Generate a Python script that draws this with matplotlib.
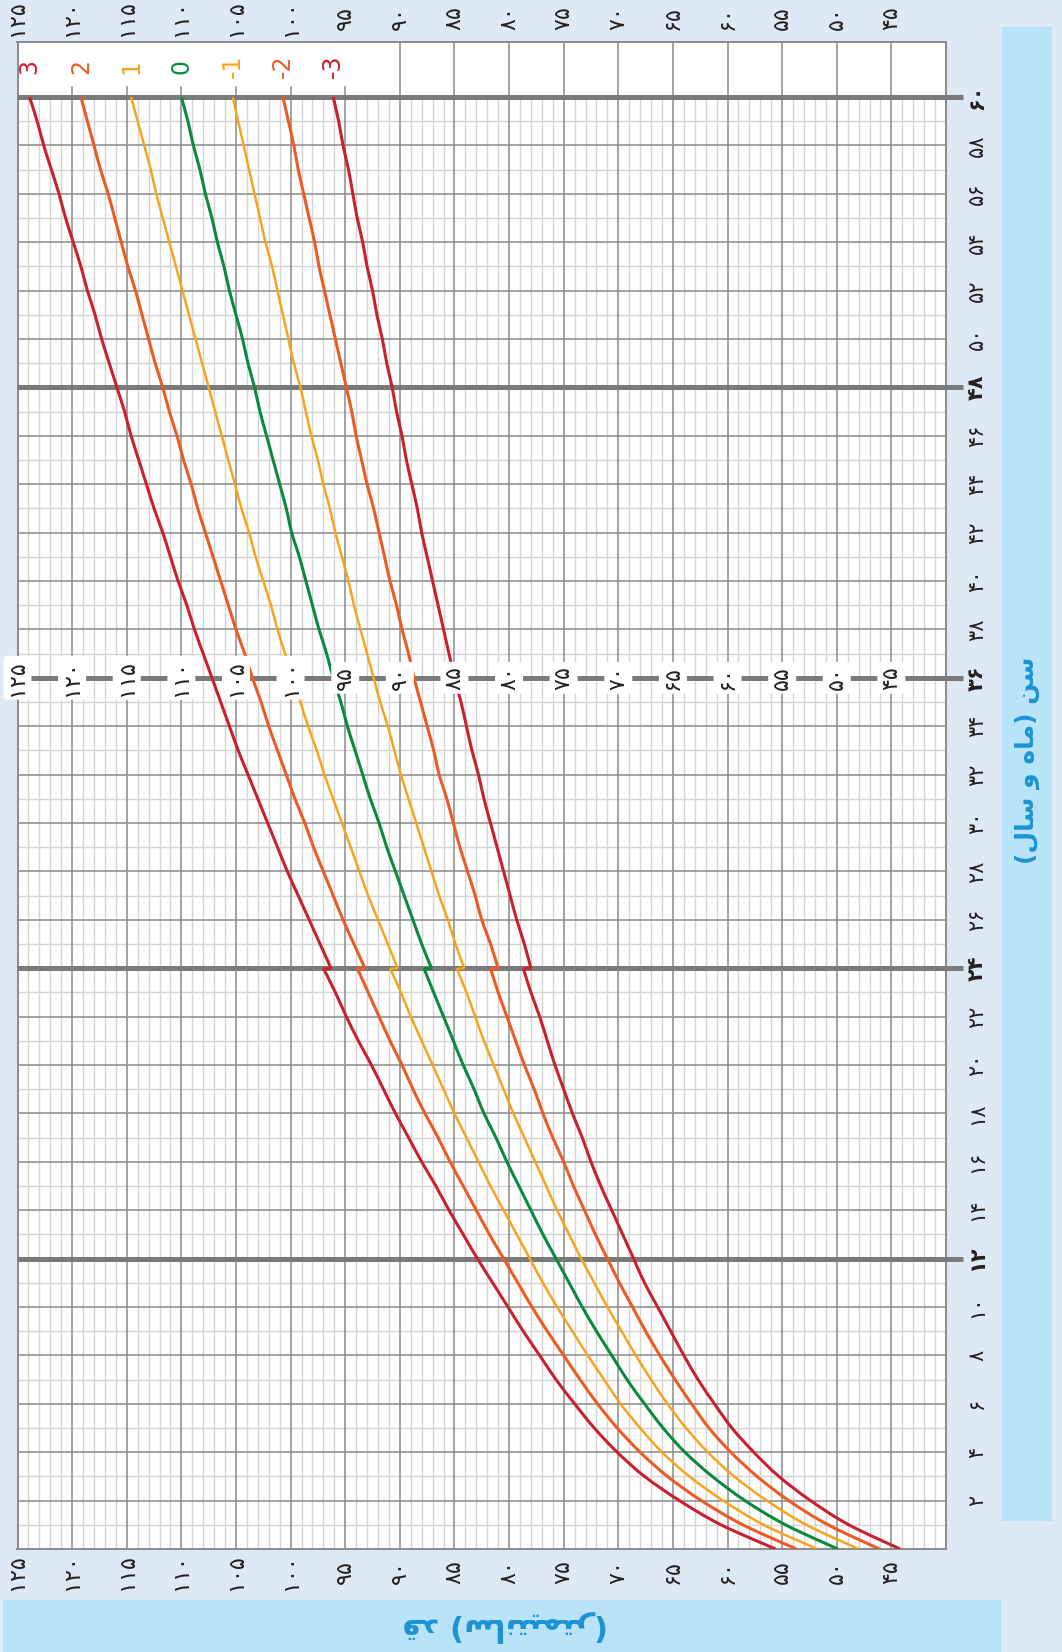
import matplotlib
matplotlib.use("Agg")
import matplotlib.pyplot as plt
from matplotlib.patches import Rectangle, PathPatch
from matplotlib.path import Path
from matplotlib.transforms import blended_transform_factory

# WHO boys length-for-age (0-24 months, lying) and height-for-age (24-60 months, standing)
ages_length = list(range(0, 25))
ages_height = list(range(24, 61))

len_m3 = [44.2, 48.9, 52.4, 55.3, 57.6, 59.6, 61.2, 62.7, 64.0, 65.2, 66.4, 67.6, 68.6,
          69.6, 70.6, 71.6, 72.5, 73.3, 74.2, 75.0, 75.8, 76.5, 77.2, 78.0, 78.7]
len_m2 = [46.1, 50.8, 54.4, 57.3, 59.7, 61.7, 63.3, 64.8, 66.2, 67.5, 68.7, 69.9, 71.0,
          72.1, 73.1, 74.1, 75.0, 76.0, 76.9, 77.7, 78.6, 79.4, 80.2, 81.0, 81.7]
len_m1 = [48.0, 52.8, 56.4, 59.4, 61.8, 63.8, 65.5, 67.0, 68.4, 69.7, 71.0, 72.2, 73.4,
          74.5, 75.6, 76.6, 77.6, 78.6, 79.6, 80.5, 81.4, 82.3, 83.1, 83.9, 84.8]
len_0 = [49.9, 54.7, 58.4, 61.4, 63.9, 65.9, 67.6, 69.2, 70.6, 72.0, 73.3, 74.5, 75.7,
         76.9, 78.0, 79.1, 80.2, 81.2, 82.3, 83.2, 84.2, 85.1, 86.0, 86.9, 87.8]
len_p1 = [51.8, 56.7, 60.4, 63.5, 66.0, 68.0, 69.8, 71.3, 72.8, 74.2, 75.6, 76.9, 78.1,
          79.3, 80.5, 81.7, 82.8, 83.9, 85.0, 86.0, 87.0, 88.0, 89.0, 89.9, 90.9]
len_p2 = [53.7, 58.6, 62.4, 65.5, 68.0, 70.1, 71.9, 73.5, 75.0, 76.5, 77.9, 79.2, 80.5,
          81.8, 83.0, 84.2, 85.4, 86.5, 87.7, 88.8, 89.8, 90.9, 91.9, 92.9, 93.9]
len_p3 = [55.6, 60.6, 64.4, 67.6, 70.1, 72.2, 74.0, 75.7, 77.2, 78.7, 80.1, 81.5, 82.9,
          84.2, 85.5, 86.7, 88.0, 89.2, 90.4, 91.5, 92.6, 93.8, 94.9, 95.9, 97.0]

hgt_m3 = [78.0, 78.6, 79.3, 79.9, 80.5, 81.1, 81.7, 82.3, 82.8, 83.4, 83.9, 84.4, 85.0,
          85.5, 86.0, 86.5, 87.0, 87.5, 88.0, 88.4, 88.9, 89.4, 89.8, 90.3, 90.7,
          91.2, 91.6, 92.1, 92.5, 93.0, 93.4, 93.9, 94.3, 94.7, 95.2, 95.6, 96.1]
hgt_m2 = [81.0, 81.7, 82.5, 83.1, 83.8, 84.5, 85.1, 85.7, 86.4, 86.9, 87.5, 88.1, 88.7,
          89.2, 89.8, 90.3, 90.9, 91.4, 91.9, 92.4, 93.0, 93.5, 94.0, 94.4, 94.9,
          95.4, 95.9, 96.4, 96.9, 97.4, 97.8, 98.3, 98.8, 99.3, 99.7, 100.2, 100.7]
hgt_m1 = [84.1, 84.9, 85.6, 86.4, 87.1, 87.8, 88.5, 89.2, 89.9, 90.5, 91.1, 91.8, 92.4,
          93.0, 93.6, 94.2, 94.7, 95.3, 95.9, 96.4, 97.0, 97.5, 98.1, 98.6, 99.1,
          99.7, 100.2, 100.7, 101.2, 101.7, 102.3, 102.8, 103.3, 103.8, 104.3, 104.8, 105.3]
hgt_0 = [87.1, 88.0, 88.8, 89.6, 90.4, 91.2, 91.9, 92.7, 93.4, 94.1, 94.8, 95.4, 96.1,
         96.7, 97.4, 98.0, 98.6, 99.2, 99.9, 100.4, 101.0, 101.6, 102.2, 102.8, 103.3,
         103.9, 104.4, 105.0, 105.6, 106.1, 106.7, 107.2, 107.8, 108.3, 108.9, 109.4, 110.0]
hgt_p1 = [90.2, 91.1, 92.0, 92.9, 93.7, 94.5, 95.3, 96.1, 96.9, 97.6, 98.4, 99.1, 99.8,
          100.5, 101.2, 101.8, 102.5, 103.2, 103.8, 104.5, 105.1, 105.7, 106.3, 106.9, 107.5,
          108.1, 108.7, 109.3, 109.9, 110.5, 111.1, 111.7, 112.3, 112.8, 113.4, 114.0, 114.6]
hgt_p2 = [93.2, 94.2, 95.2, 96.1, 97.0, 97.9, 98.7, 99.6, 100.4, 101.2, 102.0, 102.7, 103.5,
          104.2, 105.0, 105.7, 106.4, 107.1, 107.8, 108.5, 109.1, 109.8, 110.4, 111.1, 111.7,
          112.4, 113.0, 113.6, 114.2, 114.9, 115.5, 116.1, 116.7, 117.4, 118.0, 118.6, 119.2]
hgt_p3 = [96.3, 97.3, 98.3, 99.3, 100.3, 101.2, 102.1, 103.0, 103.9, 104.8, 105.6, 106.4, 107.2,
          108.0, 108.8, 109.5, 110.3, 111.0, 111.7, 112.5, 113.2, 113.9, 114.6, 115.2, 115.9,
          116.6, 117.3, 117.9, 118.6, 119.2, 119.9, 120.6, 121.2, 121.9, 122.6, 123.2, 123.9]

z_labels = ["3", "2", "1", "0", "-1", "-2", "-3"]
height_ticks = list(range(45, 130, 5))
age_ticks = list(range(2, 62, 2))
bold_ages = [12, 24, 36, 48, 60]

RED = "#c9202f"
ORANGE = "#ec5b24"
YELLOW = "#f7a41d"
GREEN = "#0b8a3d"
curves = [
    (len_p3, hgt_p3, RED, 2.2),
    (len_p2, hgt_p2, ORANGE, 2.2),
    (len_p1, hgt_p1, YELLOW, 1.8),
    (len_0, hgt_0, GREEN, 2.2),
    (len_m1, hgt_m1, YELLOW, 1.8),
    (len_m2, hgt_m2, ORANGE, 2.2),
    (len_m3, hgt_m3, RED, 2.2),
]

FA_DIGITS = str.maketrans("0123456789", "۰۱۲۳۴۵۶۷۸۹")


def fa(n):
    return str(n).translate(FA_DIGITS)


def smooth_path(xs, ys):
    """Cubic Bezier path passing through every data point (Catmull-Rom)."""
    pts = list(zip(xs, ys))
    verts = [pts[0]]
    codes = [Path.MOVETO]
    n = len(pts)
    for i in range(n - 1):
        p0 = pts[i - 1] if i > 0 else pts[i]
        p1, p2 = pts[i], pts[i + 1]
        p3 = pts[i + 2] if i + 2 < n else pts[i + 1]
        c1 = (p1[0] + (p2[0] - p0[0]) / 6, p1[1] + (p2[1] - p0[1]) / 6)
        c2 = (p2[0] - (p3[0] - p1[0]) / 6, p2[1] - (p3[1] - p1[1]) / 6)
        verts += [c1, c2, p2]
        codes += [Path.CURVE4] * 3
    return Path(verts, codes)


BG = "#dde9f4"
BAND = "#b9e3f8"
BAND_TXT = "#1b93d3"
MINOR = "#d4d4d4"
MAJOR = "#8a8a8a"
THICK = "#7a7a7a"
TXT = "#231f20"

plt.rcParams["font.family"] = ["DejaVu Sans"]

W, H = 1062, 1652
fig = plt.figure(figsize=(W / 100, H / 100), dpi=100, facecolor=BG)


def fx(px):
    return px / W


def fy(py):
    return 1 - py / H


ax_l, ax_r, ax_t, ax_b = 17.5, 946, 42, 1549
ax = fig.add_axes([fx(ax_l), fy(ax_b), fx(ax_r - ax_l), (ax_b - ax_t) / H])
ax.set_facecolor("white")
top_age = 60 + (97 - 42) / 24.2
ax.set_xlim(125, 40)
ax.set_ylim(0, top_age)
ax.set_xticks([])
ax.set_yticks([])
for s in ax.spines.values():
    s.set_color(MAJOR)
    s.set_linewidth(1.4)

# minor grid
for h in range(41, 125):
    if h % 5:
        ax.plot([h, h], [0, 60], color=MINOR, lw=1.0, zorder=1)
for a in range(1, 60, 2):
    ax.plot([40, 125], [a, a], color=MINOR, lw=1.0, zorder=1)
# major grid
for h in range(45, 125, 5):
    ax.plot([h, h], [0, 60], color=MAJOR, lw=1.1, zorder=2)
    if h <= 90:
        ax.plot([h, h], [60, top_age], color=MAJOR, lw=1.1, zorder=2)
    else:
        ax.plot([h, h], [60, 60.4], color=MAJOR, lw=1.1, zorder=2)
for a in range(2, 60, 2):
    if a not in bold_ages:
        ax.plot([40, 125], [a, a], color=MAJOR, lw=1.1, zorder=2)
for a in bold_ages:
    ax.plot([38.45, 125], [a, a], color=THICK, lw=3.6, zorder=3, clip_on=False,
            solid_capstyle="butt")

# curves: lying length up to 24 months, standing height from 24 months
for (lv, hv, c, lw) in curves:
    ax.add_patch(PathPatch(smooth_path(lv, ages_length), fc="none", ec=c, lw=lw,
                           zorder=5, capstyle="butt"))
    ax.plot([lv[-1], hv[0]], [ages_length[-1], ages_height[0]], color=c, lw=lw,
            zorder=5, solid_capstyle="butt")
    ax.add_patch(PathPatch(smooth_path(hv, ages_height), fc="none", ec=c, lw=lw,
                           zorder=5, capstyle="butt"))

# z-score labels
for lab, (lv, hv, c, lw) in zip(z_labels, curves):
    ax.text(hv[-1], 61.25, lab, color=c, fontsize=17, rotation=90,
            ha="center", va="center", zorder=6)

# height labels top / bottom / middle
FS = 16
tb = blended_transform_factory(ax.transData, fig.transFigure)
for h in height_ticks:
    ax.text(h, fy(18), fa(h), transform=tb, rotation=90, fontsize=FS,
            ha="center", va="center", color=TXT)
    ax.text(h, fy(1572), fa(h), transform=tb, rotation=90, fontsize=FS,
            ha="center", va="center", color=TXT)
    ax.text(h, 36, fa(h), rotation=90, fontsize=FS, ha="center", va="center",
            color=TXT, zorder=7,
            bbox=dict(boxstyle="round,pad=0.18", fc="white", ec="none"))

# age labels on right
tr = blended_transform_factory(fig.transFigure, ax.transData)
for a in age_ticks:
    ax.text(fx(977), a, fa(a), transform=tr, rotation=90, fontsize=FS - 1,
            ha="center", va="center", color=TXT,
            fontweight="bold" if a in bold_ages else "normal")

# bands with axis titles
fig.patches.append(Rectangle((fx(1002), fy(1521)), fx(50), (1521 - 27) / H,
                             transform=fig.transFigure, fc=BAND, ec="none", zorder=0))
fig.patches.append(Rectangle((fx(3), 0), fx(998), 52 / H,
                             transform=fig.transFigure, fc=BAND, ec="none", zorder=0))

age_title = "(\uFEDD\uFE8E\uFEB3 \uFEED \uFEE9\uFE8E\uFEE3) \uFEE6\uFEB3"
height_title = "(\uFEAE\uFE98\uFEE4\uFEF4\uFE98\uFEE7\uFE8E\uFEB3) \uFEAA\uFED7"
fig.text(fx(1027), fy(760), age_title, rotation=90, fontsize=18, fontweight="bold",
         color=BAND_TXT, ha="center", va="center")
fig.text(fx(505), fy(1627), height_title, rotation=180, fontsize=22, fontweight="bold",
         color=BAND_TXT, ha="center", va="center")

fig.savefig("out.png", dpi=100, facecolor=BG)
